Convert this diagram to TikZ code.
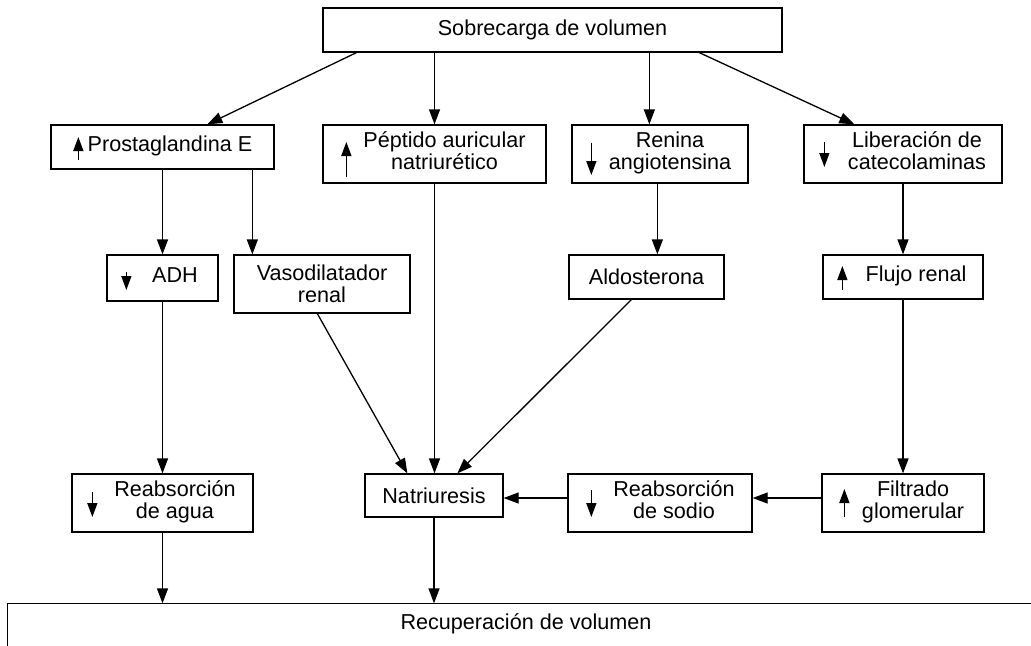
\documentclass[tikz,border=0pt]{standalone}
\usepackage{fontspec}
\setmainfont{Liberation Sans}
\usetikzlibrary{arrows.meta,calc}
\newcommand{\shtxt}[2]{\hspace*{#1}\begin{tabular}{@{}c@{}}#2\end{tabular}}
\begin{document}
\begin{tikzpicture}[x=0.5pt,y=-0.5pt,
  box/.style={draw,line width=0.65pt,inner sep=0pt,font=\fontsize{10.8}{11.2}\selectfont,align=center},
  conn/.style={line width=0.65pt,-{Triangle[length=7.5pt,width=5.5pt]}},
  small/.style={line width=0.75pt,-{Triangle[length=7pt,width=5pt]}}]
\useasboundingbox (0,0) rectangle (1031,645);
\clip (0,0) rectangle (1031,645);
\fill[white] (0,0) rectangle (1031,645);
% nodes
\node[box,minimum width=229.5pt,minimum height=22pt] (top) at (552.5,30) {Sobrecarga de volumen};
\node[box,minimum width=111.5pt,minimum height=22pt] (ptg) at (162.5,147) {\shtxt{7.5pt}{Prostaglandina E}};
\node[box,minimum width=111.5pt,minimum height=29pt] (pep) at (434.5,154) {\shtxt{10pt}{Péptido auricular\\natriurético}};
\node[box,minimum width=88pt,minimum height=29pt] (ren) at (660,154) {\shtxt{10pt}{Renina\\angiotensina}};
\node[box,minimum width=99pt,minimum height=29pt] (lib) at (903,154) {\shtxt{14pt}{Liberación de\\catecolaminas}};
\node[box,minimum width=55.5pt,minimum height=23pt] (adh) at (162.5,278) {\shtxt{12.5pt}{ADH}};
\node[box,minimum width=88pt,minimum height=29pt] (vas) at (322,284) {Vasodilatador\\renal};
\node[box,minimum width=77.5pt,minimum height=22pt] (ald) at (646.5,277) {Aldosterona};
\node[box,minimum width=80pt,minimum height=22pt] (flu) at (903,277) {\shtxt{13pt}{Flujo renal}};
\node[box,minimum width=90.5pt,minimum height=29pt] (rea) at (162.5,503) {\shtxt{12.5pt}{Reabsorción\\de agua}};
\node[box,minimum width=69pt,minimum height=21.5pt] (nat) at (434,495.5) {Natriuresis};
\node[box,minimum width=92pt,minimum height=29pt] (sod) at (660,503) {\shtxt{14pt}{Reabsorción\\de sodio}};
\node[box,minimum width=81pt,minimum height=29pt] (fil) at (903,503) {\shtxt{10pt}{Filtrado\\glomerular}};
\node[box,draw=none,minimum width=518pt,minimum height=20pt] (rec) at (526,624) {Recuperación de volumen};
\draw[line width=0.65pt] ([yshift=-30pt]rec.south west) -- (rec.north west) -- (rec.north east) -- ([yshift=-30pt]rec.south east);
% small up/down arrows
\draw[small] ($(ptg.west)+(28,13)$) -- ($(ptg.west)+(28,-10)$);
\draw[small] ($(pep.west)+(24,23)$) -- ($(pep.west)+(24,-12)$);
\draw[small] ($(ren.west)+(20,-11)$) -- ($(ren.west)+(20,21)$);
\draw[small] ($(lib.west)+(21,-12)$) -- ($(lib.west)+(21,13)$);
\draw[small] ($(adh.west)+(20,-6)$) -- ($(adh.west)+(20,12)$);
\draw[small] ($(flu.west)+(20,13)$) -- ($(flu.west)+(20,-11)$);
\draw[small] ($(rea.west)+(21,-11)$) -- ($(rea.west)+(21,14)$);
\draw[small] ($(sod.west)+(24,-13)$) -- ($(sod.west)+(24,14)$);
\draw[small] ($(fil.west)+(23,14)$) -- ($(fil.west)+(23,-14)$);
% connectors
\draw[conn] ($(top.south west)+(34,0)$) -- ($(ptg.north west)+(157,0)$);
\draw[conn] (pep.north |- top.south) -- (pep.north);
\draw[conn] ($(top.south west)+(327,0)$) -- ($(ren.north west)+(78,0)$);
\draw[conn] ($(top.south west)+(377,0)$) -- ($(lib.north west)+(51,0)$);
\draw[conn] (ptg.south) -- (adh.north);
\draw[conn] ($(ptg.south west)+(202,0)$) -- ($(vas.north west)+(19,0)$);
\draw[conn] (pep.south) -- (pep.south |- nat.north);
\draw[conn] ($(ren.south west)+(86,0)$) -- ($(ald.north west)+(89,0)$);
\draw[conn] (lib.south) -- (flu.north);
\draw[conn] (adh.south) -- (rea.north);
\draw[conn] ($(vas.south west)+(84,0)$) -- ($(nat.north west)+(43,0)$);
\draw[conn] ($(ald.south west)+(63,0)$) -- ($(nat.north west)+(93,0)$);
\draw[conn] (flu.south) -- (fil.north);
\draw[conn] ($(fil.west)+(0,-5)$) -- ($(sod.east)+(0,-5)$);
\draw[conn] ($(sod.west)+(0,-5)$) -- ($(nat.east)+(0,2.5)$);
\draw[conn] (rea.south) -- (rea.south |- rec.north);
\draw[conn] (nat.south) -- (nat.south |- rec.north);
\end{tikzpicture}
\end{document}
